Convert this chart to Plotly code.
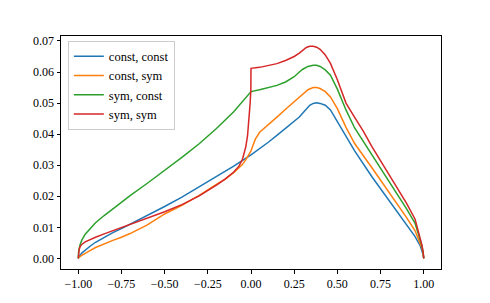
import plotly.graph_objects as go

# ---- data ----
blue_x = [-1, -0.995, -0.98, -0.96, -0.93, -0.9, -0.85, -0.8, -0.75, -0.7, -0.6, -0.5, -0.4, -0.3, -0.2, -0.1, 0,
          0.05, 0.1, 0.15, 0.2, 0.25, 0.28, 0.3, 0.32, 0.34, 0.36, 0.38, 0.4, 0.43, 0.46, 0.5, 0.55, 0.6, 0.7, 0.8,
          0.9, 0.95, 0.98, 0.99, 0.997, 1]
blue_y = [0, 0.0006, 0.0017, 0.0027, 0.0040, 0.0052, 0.0068, 0.0083, 0.0096, 0.0110, 0.0138, 0.0167, 0.0197,
          0.0230, 0.0262, 0.0297, 0.0333, 0.0353, 0.0374, 0.0396, 0.0419, 0.0440, 0.0455, 0.0468, 0.0482, 0.0493,
          0.0499, 0.0501, 0.0499, 0.0493, 0.0478, 0.0440, 0.0395, 0.0346, 0.0263, 0.0185, 0.0108, 0.0070, 0.0040,
          0.0027, 0.0012, 0]

orange_x = [-1, -0.995, -0.98, -0.96, -0.93, -0.9, -0.85, -0.8, -0.75, -0.7, -0.6, -0.5, -0.4, -0.3, -0.2, -0.15,
            -0.1, -0.07, -0.05, -0.03, -0.01, 0, 0.01, 0.025, 0.05, 0.075, 0.1, 0.15, 0.2, 0.25, 0.28, 0.3, 0.33,
            0.36, 0.38, 0.4, 0.43, 0.46, 0.5, 0.55, 0.6, 0.7, 0.8, 0.9, 0.95, 0.98, 0.99, 0.997, 1]
orange_y = [0, 0.0004, 0.0010, 0.0017, 0.0026, 0.0035, 0.0047, 0.0058, 0.0068, 0.0080, 0.0108, 0.0143, 0.0171,
            0.0203, 0.0238, 0.0255, 0.0276, 0.0290, 0.0302, 0.0318, 0.0335, 0.0346, 0.0362, 0.0384, 0.0406,
            0.0419, 0.0431, 0.0455, 0.0480, 0.0505, 0.0520, 0.0530, 0.0543, 0.0550, 0.0550, 0.0547, 0.0537,
            0.0520, 0.0482, 0.0422, 0.0370, 0.0292, 0.0213, 0.0132, 0.0089, 0.0050, 0.0033, 0.0014, 0]

green_x = [-1, -0.998, -0.99, -0.98, -0.96, -0.93, -0.9, -0.85, -0.8, -0.75, -0.7, -0.6, -0.5, -0.4, -0.3, -0.2,
           -0.1, -0.05, 0, 0.05, 0.1, 0.15, 0.2, 0.25, 0.28, 0.3, 0.33, 0.36, 0.38, 0.4, 0.43, 0.46, 0.5, 0.55,
           0.6, 0.7, 0.8, 0.9, 0.95, 0.98, 0.99, 0.997, 1]
green_y = [0, 0.0022, 0.0043, 0.0058, 0.0078, 0.0098, 0.0115, 0.0138, 0.0160, 0.0181, 0.0202, 0.0242, 0.0283,
           0.0325, 0.0369, 0.0418, 0.0472, 0.0503, 0.0537, 0.0543, 0.0549, 0.0557, 0.0568, 0.0585, 0.0600,
           0.0609, 0.0618, 0.0622, 0.0622, 0.0618, 0.0607, 0.0590, 0.0545, 0.0478, 0.0420, 0.0333, 0.0248,
           0.0160, 0.0113, 0.0060, 0.0039, 0.0016, 0]

red_x = [-1, -0.998, -0.995, -0.99, -0.98, -0.96, -0.93, -0.9, -0.85, -0.8, -0.75, -0.7, -0.6, -0.5, -0.4, -0.3,
         -0.2, -0.15, -0.1, -0.07, -0.05, -0.03, -0.02, -0.01, -0.005, -0.001, 0, 0.05, 0.1, 0.15, 0.2, 0.25,
         0.28, 0.3, 0.32, 0.34, 0.36, 0.38, 0.4, 0.43, 0.46, 0.5, 0.55, 0.6, 0.65, 0.7, 0.8, 0.9, 0.95, 0.98,
         0.99, 0.997, 1]
red_y = [0, 0.0022, 0.0029, 0.0037, 0.0045, 0.0053, 0.0061, 0.0068, 0.0079, 0.0089, 0.0098, 0.0108, 0.0129,
         0.0150, 0.0173, 0.0201, 0.0236, 0.0255, 0.0278, 0.0297, 0.0318, 0.0360, 0.0395, 0.0450, 0.0500, 0.0540,
         0.0612, 0.0615, 0.0620, 0.0627, 0.0637, 0.0650, 0.0661, 0.0670, 0.0679, 0.0683, 0.0683, 0.0680,
         0.0673, 0.0655, 0.0628, 0.0575, 0.0500, 0.0454, 0.0410, 0.0360, 0.0271, 0.0178, 0.0126, 0.0066,
         0.0042, 0.0018, 0]

series_names = ["const, const", "const, sym", "sym, const", "sym, sym"]
series_colors = ["#1f77b4", "#ff7f0e", "#2ca02c", "#d62728"]

x_ticks = [-1.0, -0.75, -0.5, -0.25, 0.0, 0.25, 0.5, 0.75, 1.0]
x_ticktext = ["−1.00", "−0.75", "−0.50", "−0.25", "0.00", "0.25", "0.50", "0.75", "1.00"]
y_ticks = [0.0, 0.01, 0.02, 0.03, 0.04, 0.05, 0.06, 0.07]
y_ticktext = ["0.00", "0.01", "0.02", "0.03", "0.04", "0.05", "0.06", "0.07"]

FONT = "Liberation Serif"

fig = go.Figure()
for xs, ys, name, color in zip([blue_x, orange_x, green_x, red_x],
                               [blue_y, orange_y, green_y, red_y],
                               series_names, series_colors):
    fig.add_trace(go.Scatter(x=xs, y=ys, mode="lines", name=name,
                             line=dict(color=color, width=1.5)))

fig.update_layout(
    width=490, height=303,
    margin=dict(l=61, r=49, t=36, b=34),
    paper_bgcolor="white", plot_bgcolor="white",
    font=dict(family=FONT, size=12, color="black"),
    showlegend=True,
    legend=dict(x=0.018, y=0.98, xanchor="left", yanchor="top",
                bgcolor="rgba(255,255,255,0.8)", bordercolor="#cccccc", borderwidth=1,
                font=dict(family=FONT, size=12.5), tracegroupgap=0, itemwidth=30),
)
fig.update_xaxes(range=[-1.1, 1.1], tickvals=x_ticks, ticktext=x_ticktext,
                 showgrid=False, zeroline=False, showline=True, linecolor="black", linewidth=1,
                 mirror=True, ticks="outside", ticklen=3.5, tickwidth=0.8, tickcolor="black")
fig.update_yaxes(range=[-0.00341, 0.0716], tickvals=y_ticks, ticktext=y_ticktext,
                 showgrid=False, zeroline=False, showline=True, linecolor="black", linewidth=1,
                 mirror=True, ticks="outside", ticklen=3.5, tickwidth=0.8, tickcolor="black")

fig.write_html("out.html", config={"displayModeBar": False},
               post_script="document.body.style.margin='0';")
